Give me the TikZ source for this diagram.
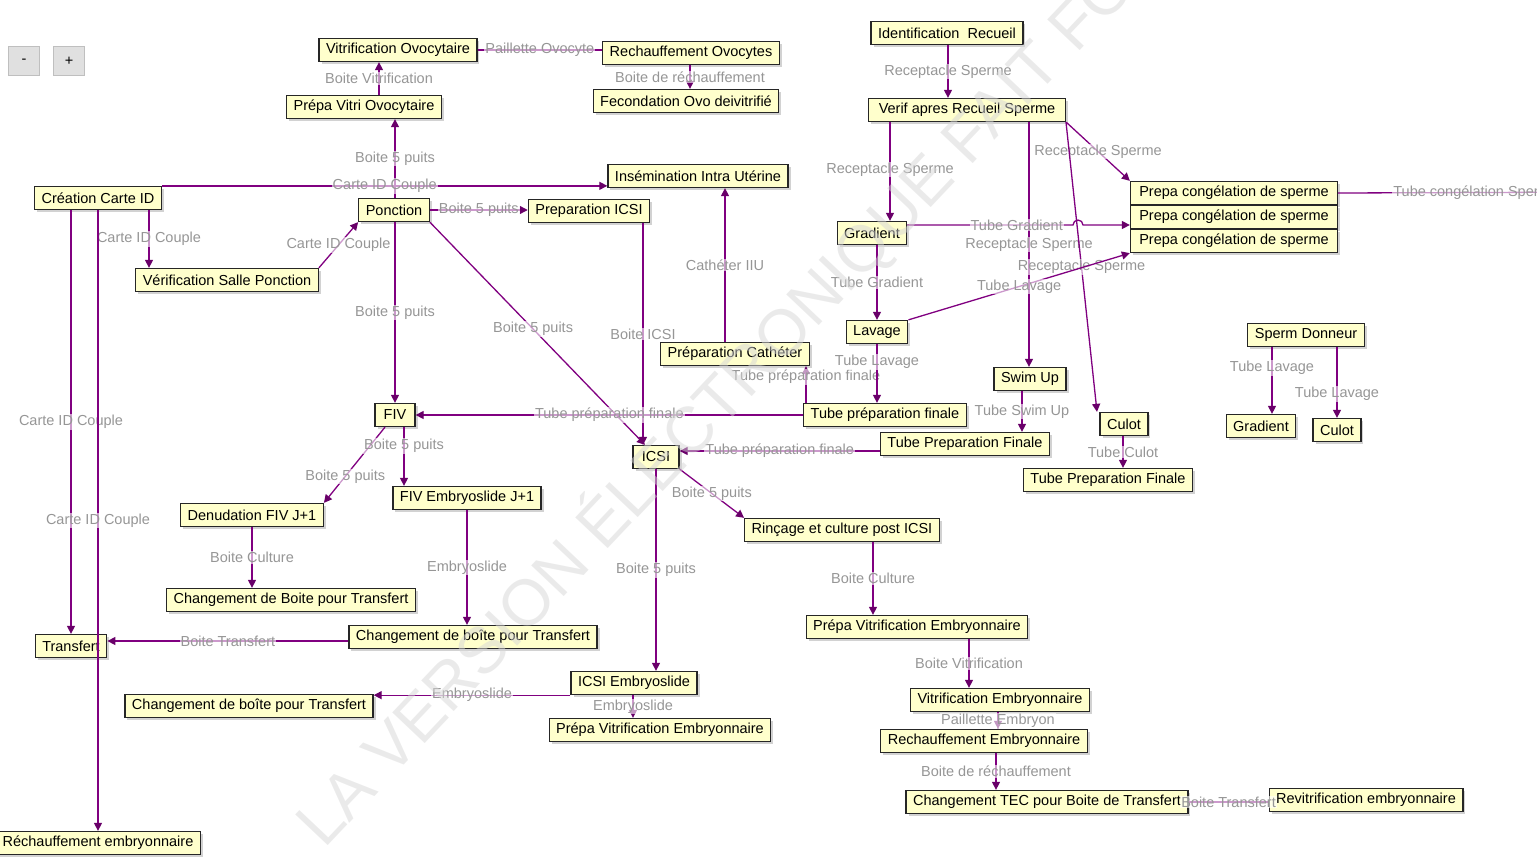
\documentclass[tikz,border=0pt]{standalone}
\usepackage{fontspec}
\setmainfont{Liberation Sans}
\usetikzlibrary{arrows.meta,shadows}
\definecolor{boxfill}{RGB}{255,255,204}
\definecolor{flowc}{RGB}{128,0,128}
\definecolor{tipc}{RGB}{105,0,105}
\definecolor{lblc}{RGB}{150,150,150}
\begin{document}
\begin{tikzpicture}[x=1pt, y=-1pt,
  every node/.style={font=\fontsize{14.5}{17}\selectfont},
  task/.style={draw=black!85, line width=1.3pt, fill=boxfill, minimum height=23pt,
    inner xsep=7pt, inner ysep=2pt,
    drop shadow={shadow xshift=2.5pt, shadow yshift=-2.5pt, fill=black!35}},
  btn/.style={draw=black!25, fill=black!12, minimum width=31pt, minimum height=29pt, inner sep=0pt},
  flow/.style={draw=flowc, line width=1.3pt, -{Triangle[length=8pt,width=8pt,fill=tipc,color=tipc]}},
  link/.style={draw=flowc, line width=1.3pt},
  lbl/.style={text=lblc, fill=white, fill opacity=.6, text opacity=1, inner sep=1pt}]
\useasboundingbox (0,0) rectangle (1537,865);
\clip (0,0) rectangle (1537,865);

\node[btn] (zoomOut) at (24,61) {-};
\node[btn] (zoomIn) at (69,61) {+};

% ovocytes
\node[task] (vitriOvo) at (398,50) {Vitrification Ovocytaire};
\node[task] (rechOvo) at (691,53) {Rechauffement Ovocytes};
\node[task] (fecOvo) at (686,101) {Fecondation Ovo deivitrifié};
\node[task] (prepaVitriOvo) at (364,107) {Prépa Vitri Ovocytaire};

% couple / ponction
\node[task] (creationCarte) at (98,198) {Création Carte ID};
\node[task] (insemIU) at (698,176) {Insémination Intra Utérine};
\node[task] (ponction) at (394,210) {Ponction};
\node[task] (prepaICSI) at (589,211) {Preparation ICSI};
\node[task] (verifSalle) at (227,280) {Vérification Salle Ponction};
\node[task] (prepaCath) at (735,354) {Préparation Cathéter};
\node[task, minimum width=40pt] (fiv) at (395,415) {FIV};
\node[task, minimum width=46pt] (icsi) at (656,457) {ICSI};
\node[task] (denud) at (252,515) {Denudation FIV J+1};
\node[task] (fivEmbryo) at (467,498) {FIV Embryoslide J+1};
\node[task] (rincage) at (842,530) {Rinçage et culture post ICSI};
\node[task] (chgBoiteA) at (291,600) {Changement de Boite pour Transfert};
\node[task] (chgBoiteB) at (473,637) {Changement de boîte pour Transfert};
\node[task] (transfert) at (71,646) {Transfert};
\node[task] (icsiEmbryo) at (634,683) {ICSI Embryoslide};
\node[task] (chgBoiteC) at (249,706) {Changement de boîte pour Transfert};
\node[task] (prepaVitriEmbB) at (660,730) {Prépa Vitrification Embryonnaire};
\node[task] (rechEmbryo) at (98,843) {Réchauffement embryonnaire};

% embryons
\node[task] (prepaVitriEmbA) at (917,627) {Prépa Vitrification Embryonnaire};
\node[task] (vitriEmb) at (1000,700) {Vitrification Embryonnaire};
\node[task] (rechEmb) at (984,741) {Rechauffement Embryonnaire};
\node[task] (chgTEC) at (1047,802) {Changement TEC pour Boite de Transfert};
\node[task] (revitri) at (1366,800) {Revitrification embryonnaire};

% sperme
\node[task] (identRec) at (947,33) {Identification\ \ Recueil};
\node[task, minimum width=197pt] (verifRec) at (967,110) {Verif apres Recueil Sperme};
\node[task] (gradient) at (872,233) {Gradient};
\node[task, minimum width=207pt] (congelA) at (1234,193) {Prepa congélation de sperme};
\node[task, minimum width=207pt] (congelB) at (1234,217) {Prepa congélation de sperme};
\node[task, minimum width=207pt] (congelC) at (1234,241) {Prepa congélation de sperme};
\node[task] (lavage) at (877,332) {Lavage};
\node[task] (swimUp) at (1030,379) {Swim Up};
\node[task] (culot) at (1124,424) {Culot};
\node[task] (tubePrepA) at (885,415) {Tube préparation finale};
\node[task] (tubePrepB) at (965,444) {Tube Preparation Finale};
\node[task] (tubePrepC) at (1108,480) {Tube Preparation Finale};
\node[task] (spermDon) at (1306,335) {Sperm Donneur};
\node[task] (gradDon) at (1261,426) {Gradient};
\node[task] (culotDon) at (1337,430) {Culot};
\coordinate (hopA) at (1073,225);
\coordinate (offRight) at (1620,192);

\draw[flow] ([xshift=15pt]prepaVitriOvo.north) -- ([xshift=-19pt]vitriOvo.south) node[lbl,midway] {Boite Vitrification};
\draw[link] (vitriOvo.east) -- (vitriOvo.east -| rechOvo.west) node[lbl,midway] {Paillette Ovocyte};
\draw[flow] ([xshift=-1pt]rechOvo.south) -- ([xshift=4pt]fecOvo.north) node[lbl,midway] {Boite de réchauffement};
\draw[flow] ([xshift=1pt]ponction.north) -- ([xshift=31pt]prepaVitriOvo.south) node[lbl,midway] {Boite 5 puits};
\draw[flow] (creationCarte.north east) -- (creationCarte.north east -| insemIU.west) node[lbl,midway] {Carte ID Couple};
\draw[flow] (ponction.east) -- (ponction.east -| prepaICSI.west) node[lbl,midway] {Boite 5 puits};
\draw[flow] ([xshift=51pt]creationCarte.south) -- ([xshift=-78pt]verifSalle.north) node[lbl,midway] {Carte ID Couple};
\draw[flow] (verifSalle.north east) -- (ponction.south west) node[lbl,midway] {Carte ID Couple};
\draw[flow] ([xshift=-27pt]creationCarte.south) -- (transfert.north) node[lbl,midway] {Carte ID Couple};
\draw[flow] (creationCarte.south) -- (rechEmbryo.north) node[lbl,midway] {Carte ID Couple};
\draw[flow] ([xshift=1pt]ponction.south) -- (fiv.north) node[lbl,midway] {Boite 5 puits};
\draw[flow] (ponction.south east) -- ([xshift=-11pt]icsi.north) node[lbl,pos=.48] {Boite 5 puits};
\draw[flow] ([xshift=54pt]prepaICSI.south) -- ([xshift=-13pt]icsi.north) node[lbl,midway] {Boite ICSI};
\draw[flow] ([xshift=-10pt]prepaCath.north) -- ([xshift=27pt]insemIU.south) node[lbl,midway] {Cathéter IIU};
\draw[flow] (tubePrepA.west) -- (tubePrepA.west -| fiv.east) node[lbl,midway] {Tube préparation finale};
\draw[flow] ([xshift=-79pt]tubePrepA.north) -- ([xshift=71pt]prepaCath.south) node[lbl,pos=.7] {Tube préparation finale};
\draw[flow] ([yshift=-7pt]tubePrepB.west) -- ([yshift=6pt]icsi.east) node[lbl,midway] {Tube préparation finale};
\draw[flow] ([xshift=-10pt]fiv.south) -- (denud.north east) node[lbl,pos=.65] {Boite 5 puits};
\draw[flow] ([xshift=9pt]fiv.south) -- ([xshift=-63pt]fivEmbryo.north) node[lbl,pos=.32] {Boite 5 puits};
\draw[flow] (icsi.south east) -- (rincage.north west) node[lbl,midway] {Boite 5 puits};
\draw[flow] (icsi.south) -- ([xshift=22pt]icsiEmbryo.north) node[lbl,midway] {Boite 5 puits};
\draw[flow] (denud.south) -- ([xshift=-39pt]chgBoiteA.north) node[lbl,midway] {Boite Culture};
\draw[flow] (fivEmbryo.south) -- ([xshift=-6pt]chgBoiteB.north) node[lbl,midway] {Embryoslide};
\draw[flow] ([yshift=-4pt]chgBoiteB.west) -- ([yshift=5pt]transfert.east) node[lbl,midway] {Boite Transfert};
\draw[flow] (icsiEmbryo.south west) -- (icsiEmbryo.south west -| chgBoiteC.east) node[lbl,midway] {Embryoslide};
\draw[flow] ([xshift=-1pt]icsiEmbryo.south) -- ([xshift=-27pt]prepaVitriEmbB.north) node[lbl,midway] {Embryoslide};
\draw[flow] ([xshift=31pt]rincage.south) -- ([xshift=-44pt]prepaVitriEmbA.north) node[lbl,midway] {Boite Culture};
\draw[flow] ([xshift=52pt]prepaVitriEmbA.south) -- ([xshift=-31pt]vitriEmb.north) node[lbl,midway] {Boite Vitrification};
\draw[flow] ([xshift=-2pt]vitriEmb.south) -- ([xshift=14pt]rechEmb.north) node[lbl,midway] {Paillette Embryon};
\draw[flow] ([xshift=12pt]rechEmb.south) -- ([xshift=-51pt]chgTEC.north) node[lbl,midway] {Boite de réchauffement};
\draw[link] (chgTEC.east) -- (chgTEC.east -| revitri.west) node[lbl,midway] {Boite Transfert};

\draw[flow] ([xshift=1pt]identRec.south) -- ([xshift=-19pt]verifRec.north) node[lbl,midway] {Receptacle Sperme};
\draw[flow] ([xshift=-77pt]verifRec.south) -- ([xshift=18pt]gradient.north) node[lbl,pos=.48] {Receptacle Sperme};
\draw[flow] (verifRec.south east) -- (congelA.north west) node[lbl,midway] {Receptacle Sperme};
\draw[flow] ([xshift=62pt]verifRec.south) -- ([xshift=-1pt]swimUp.north) node[lbl,midway] {Receptacle Sperme};
\draw[flow] ([xshift=99pt]verifRec.south) -- ([xshift=-27pt]culot.north) node[lbl,midway] {Receptacle Sperme};
\draw[flow] ([yshift=8pt]gradient.east) -- node[lbl,pos=.66] {Tube Gradient} (hopA)
  arc[start angle=180, end angle=360, radius=5] -- ([yshift=-8pt]congelB.west);
\draw[flow] (lavage.north east) -- (congelC.south west) node[lbl,midway] {Tube Lavage};
\draw[flow] ([xshift=5pt]gradient.south) -- (lavage.north) node[lbl,midway] {Tube Gradient};
\draw[flow] (lavage.south) -- ([xshift=-8pt]tubePrepA.north) node[lbl,pos=.3] {Tube Lavage};
\draw[flow] ([xshift=-8pt]swimUp.south) -- ([xshift=57pt]tubePrepB.north) node[lbl,midway] {Tube Swim Up};
\draw[flow] ([xshift=-1pt]culot.south) -- ([xshift=15pt]tubePrepC.north) node[lbl,midway] {Tube Culot};
\draw[link] (congelA.east) -- (offRight) node[lbl,pos=.19,anchor=west] {Tube congélation Sperme};
\draw[flow] ([xshift=-34pt]spermDon.south) -- ([xshift=11pt]gradDon.north) node[lbl,pos=.31] {Tube Lavage};
\draw[flow] ([xshift=31pt]spermDon.south) -- (culotDon.north) node[lbl,pos=.66] {Tube Lavage};

% filigrane
\node[rotate=46.6, anchor=base west, text=black!16, text opacity=.5, font=\fontsize{65}{65}\selectfont]
  (watermark) at (322,852) {LA VERSION ÉLECTRONIQUE FAIT FOI};
\end{tikzpicture}
\end{document}
